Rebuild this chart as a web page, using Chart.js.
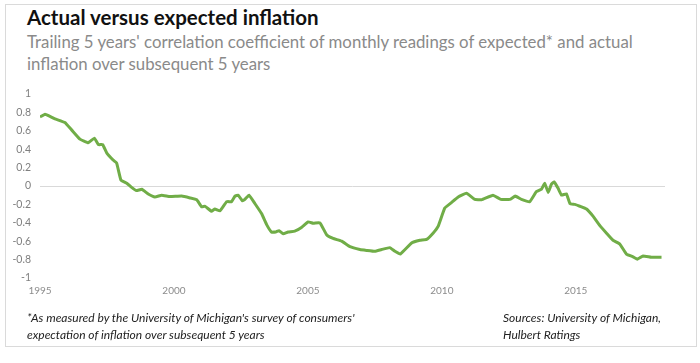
<!DOCTYPE html>
<html>
<head>
<meta charset="utf-8">
<script src="https://cdn.jsdelivr.net/npm/chart.js@4"></script>
<style>
  html, body { margin: 0; padding: 0; background: #fff; }
  #wrap { position: relative; width: 700px; height: 363px; overflow: hidden; font-family: Lato, "Open Sans", sans-serif; }
  #frame { position: absolute; left: 5px; top: 4px; width: 690px; height: 341px; border: 1px solid #dadada; }
  #chart { position: absolute; left: 0; top: 0; }
  .t { position: absolute; left: 27px; white-space: nowrap; }
  #title { top: 5px; font-size: 20.5px; font-weight: bold; color: #111; }
  #sub { top: 31px; font-size: 16.8px; line-height: 22px; color: #8a8a8a; }
  .note { position: absolute; top: 309px; font-size: 12px; line-height: 17px; font-style: italic; color: #222; white-space: nowrap; }
</style>
</head>
<body>
<div id="wrap">
  <div id="frame"></div>
  <div class="t" id="title">Actual versus expected inflation</div>
  <div class="t" id="sub">Trailing 5 years' correlation coefficient of monthly readings of expected* and actual<br>inflation over subsequent 5 years</div>
  <canvas id="chart" width="700" height="363"></canvas>
  <div class="note" style="left:27px">*As measured by the University of Michigan's survey of consumers'<br>expectation of inflation over subsequent 5 years</div>
  <div class="note" style="left:503px">Sources: University of Michigan,<br>Hulbert Ratings</div>
</div>
<script>
const years = [
  1995.0, 1995.19, 1995.35, 1995.56, 1995.93, 1996.18, 1996.49, 1996.8, 1997.03, 1997.18,
  1997.34, 1997.49, 1997.7, 1997.86, 1998.02, 1998.24, 1998.42, 1998.6, 1998.8, 1999.04,
  1999.29, 1999.54, 1999.85, 2000.29, 2000.6, 2000.85, 2001.03, 2001.16, 2001.4, 2001.53,
  2001.72, 2001.97, 2002.15, 2002.28, 2002.4, 2002.55, 2002.65, 2002.8, 2003.02, 2003.27,
  2003.46, 2003.64, 2003.8, 2003.92, 2004.08, 2004.26, 2004.51, 2004.76, 2005.01, 2005.2,
  2005.45, 2005.7, 2005.94, 2006.26, 2006.57, 2006.94, 2007.19, 2007.5, 2007.75, 2008.06,
  2008.25, 2008.45, 2008.87, 2009.18, 2009.43, 2009.68, 2009.86, 2010.11, 2010.36, 2010.61,
  2010.92, 2011.23, 2011.48, 2011.91, 2012.2, 2012.54, 2012.74, 2012.97, 2013.28, 2013.53,
  2013.72, 2013.84, 2013.97, 2014.09, 2014.19, 2014.34, 2014.47, 2014.65, 2014.78, 2014.96,
  2015.15, 2015.4, 2015.65, 2015.9, 2016.14, 2016.39, 2016.64, 2016.89, 2017.14, 2017.3,
  2017.51, 2017.82, 2018.2
];
const correlation = [
  0.75, 0.78, 0.76, 0.73, 0.69, 0.61, 0.51, 0.47, 0.52, 0.45,
  0.45, 0.36, 0.29, 0.25, 0.065, 0.03, -0.015, -0.05, -0.036, -0.087,
  -0.12, -0.1, -0.115, -0.11, -0.13, -0.15, -0.225, -0.22, -0.275, -0.25,
  -0.27, -0.17, -0.17, -0.11, -0.1, -0.16, -0.145, -0.1, -0.19, -0.3,
  -0.42, -0.5, -0.5, -0.485, -0.52, -0.5, -0.49, -0.45, -0.39, -0.405,
  -0.4, -0.53, -0.57, -0.6, -0.66, -0.69, -0.7, -0.71, -0.69, -0.67,
  -0.71, -0.74, -0.62, -0.59, -0.58, -0.51, -0.44, -0.24, -0.18, -0.12,
  -0.08, -0.145, -0.15, -0.1, -0.145, -0.145, -0.11, -0.145, -0.17, -0.06,
  -0.035, 0.03, -0.07, 0.02, 0.045, -0.025, -0.1, -0.085, -0.19, -0.2,
  -0.22, -0.25, -0.33, -0.43, -0.51, -0.59, -0.63, -0.74, -0.77, -0.795,
  -0.76, -0.775, -0.775
];
const xTicks = [1995, 2000, 2005, 2010, 2015];
const yMin = -1, yMax = 1, yStep = 0.2;

const points = years.map((y, i) => ({ x: y, y: correlation[i] }));

new Chart(document.getElementById("chart"), {
  type: "line",
  data: {
    datasets: [{
      data: points,
      borderColor: "#70ad47",
      borderWidth: 3,
      pointRadius: 0,
      tension: 0.1,
      fill: false
    }]
  },
  options: {
    responsive: false,
    animation: false,
    layout: { padding: { top: 94, right: 35, bottom: 65, left: 0 } },
    plugins: { legend: { display: false }, tooltip: { enabled: false } },
    scales: {
      x: {
        type: "linear",
        min: 1995,
        max: 2018.33,
        afterBuildTicks: (axis) => { axis.ticks = xTicks.map(v => ({ value: v })); },
        afterFit: (axis) => { axis.height = 20; },
        border: { display: false },
        grid: { display: false, drawTicks: false },
        ticks: {
          padding: 7,
          color: "#8c8c8c",
          font: { family: "Lato", size: 10 },
          maxRotation: 0,
          callback: (v) => String(v)
        }
      },
      y: {
        min: yMin,
        max: yMax,
        afterFit: (axis) => { axis.width = 40; },
        border: { display: false },
        grid: {
          drawTicks: false,
          color: (ctx) => ctx.tick && ctx.tick.value === 0 ? "#d9d9d9" : "rgba(0,0,0,0)",
          lineWidth: 1
        },
        ticks: {
          stepSize: yStep,
          padding: 9,
          color: "#7f7f7f",
          font: { family: "Lato", size: 10.5 },
          callback: (v) => String(Number(v.toFixed(1)))
        }
      }
    }
  }
});
</script>
</body>
</html>
